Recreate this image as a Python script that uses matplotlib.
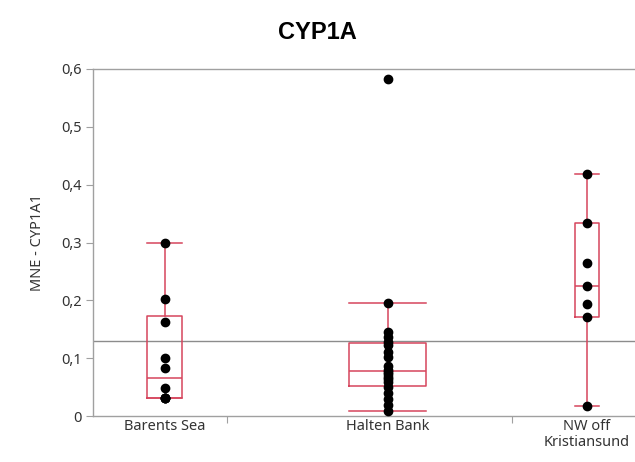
import numpy as np
import matplotlib.pyplot as plt
from matplotlib.ticker import FuncFormatter

# MNE - CYP1A1 per site
sites = ['Barents Sea', 'Halten Bank', 'NW off\nKristiansund']
barents = [0.031, 0.031, 0.031, 0.031, 0.048, 0.083, 0.100, 0.163, 0.202, 0.300]
halten = [0.009, 0.019, 0.029, 0.040, 0.050, 0.058, 0.064, 0.068, 0.072, 0.076,
          0.080, 0.086, 0.102, 0.110, 0.122, 0.128, 0.136, 0.146, 0.195, 0.582]
kristiansund = [0.017, 0.172, 0.194, 0.225, 0.264, 0.333, 0.418]
groups = [barents, halten, kristiansund]

# layout along x (axis units)
centers = [71.5, 294.5, 494]
box_widths = [35, 77, 24]
separators = [134, 419]

red = '#d6455d'
grey = '#a0a0a0'


def box_stats(vals):
    v = np.sort(np.asarray(vals))
    q1, med, q3 = np.quantile(v, [0.25, 0.5, 0.75], method='weibull')
    iqr = q3 - q1
    hi = v[v <= q3 + 1.5 * iqr].max()
    lo = v[v >= q1 - 1.5 * iqr].min()
    return dict(med=med, q1=q1, q3=q3, whislo=lo, whishi=hi, fliers=[])


fig = plt.figure(figsize=(6.35, 4.62), dpi=100)
ax = fig.add_axes([93 / 635, 46 / 462, 542 / 635, 347 / 462])

ax.bxp([box_stats(g) for g in groups], positions=centers, widths=box_widths,
       capwidths=box_widths, showfliers=False,
       boxprops=dict(color=red, lw=1.1),
       medianprops=dict(color=red, lw=1.1),
       whiskerprops=dict(color=red, lw=1.1),
       capprops=dict(color=red, lw=1.1), zorder=2)

for x, g in zip(centers, groups):
    ax.plot([x] * len(g), g, 'o', color='black', ms=6, zorder=3)

# grand mean line
all_vals = np.concatenate(groups)
ax.axhline(all_vals.mean(), color='#8c8c8c', lw=1, zorder=1)

ax.set_xlim(0, 542)
ax.set_ylim(0, 0.6)
ax.set_yticks(np.arange(0, 0.61, 0.1))
ax.yaxis.set_major_formatter(FuncFormatter(
    lambda v, p: '0' if abs(v) < 1e-9 else f'{v:.1f}'.replace('.', ',')))

ax.set_xticks(separators)
ax.set_xticklabels([])
ax.set_xticks(centers, minor=True)
ax.set_xticklabels(sites, minor=True, fontsize=10.5, color='#333333',
                   family='Noto Sans', va='top', linespacing=1.1)
ax.tick_params(axis='x', which='minor', length=0, pad=2)
ax.tick_params(axis='x', which='major', length=5, color=grey)
ax.tick_params(axis='y', length=5, color=grey, labelsize=10.5,
               labelcolor='#333333', pad=3)
for lab in ax.get_yticklabels():
    lab.set_family('Noto Sans')

for side in ['left', 'bottom', 'top']:
    ax.spines[side].set_color(grey)
    ax.spines[side].set_linewidth(1)
ax.spines['right'].set_visible(False)

ax.set_ylabel('MNE - CYP1A1', fontsize=10.5, color='#333333',
              family='Noto Sans', labelpad=12)
fig.suptitle('CYP1A', x=0.5, y=0.955, fontsize=17, fontweight='bold',
             family='Liberation Sans')

fig.savefig('out.png', dpi=100)
